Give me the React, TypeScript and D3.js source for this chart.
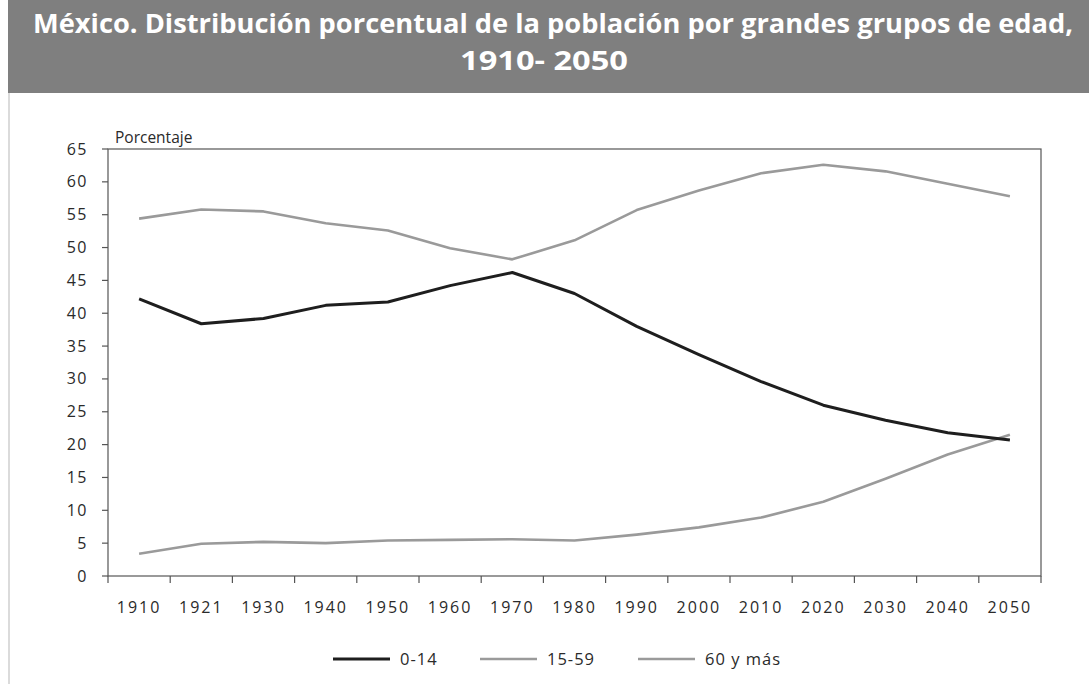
import React from "react";
import * as d3 from "d3";

const years = ["1910","1921","1930","1940","1950","1960","1970","1980","1990","2000","2010","2020","2030","2040","2050"];
const age0to14 = [42.2,38.4,39.2,41.2,41.7,44.2,46.2,43.0,38.0,33.7,29.6,26.0,23.7,21.8,20.7];
const age15to59 = [54.4,55.8,55.5,53.7,52.6,49.9,48.2,51.1,55.7,58.7,61.3,62.6,61.6,59.7,57.8];
const age60plus = [3.4,4.9,5.2,5.0,5.4,5.5,5.6,5.4,6.3,7.4,8.9,11.3,14.8,18.5,21.5];
const yTicks = [0,5,10,15,20,25,30,35,40,45,50,55,60,65];
const seriesNames = ["0-14","15-59","60 y más"];

const W = 1089, H = 684;
const left = 108, right = 1041, top = 149, bottom = 576;

export default function App() {
  const x = d3.scaleBand<string>().domain(years).range([left, right]);
  const y = d3.scaleLinear().domain([0, 65]).range([bottom, top]);
  const line = d3.line<number>()
    .x((_, i) => (x(years[i]) as number) + x.bandwidth() / 2)
    .y((d) => y(d))
    .curve(d3.curveLinear);
  const series = [
    { name: seriesNames[0], values: age0to14, color: "#1e1e1e", width: 3 },
    { name: seriesNames[1], values: age15to59, color: "#9a9a9a", width: 2.6 },
    { name: seriesNames[2], values: age60plus, color: "#9a9a9a", width: 2.6 },
  ];
  const font = "'Open Sans', 'Noto Sans', sans-serif";
  const legendX = [333, 480, 638];
  return (
    <svg width={W} height={H} style={{ position: "absolute", left: 0, top: 0, display: "block" }}>
      <rect x={0} y={0} width={W} height={H} fill="#fff" />
      <rect x={8} y={0} width={W - 8} height={93} fill="#7f7f7f" />
      <line x1={9} x2={9} y1={93} y2={H} stroke="#cfcfcf" strokeWidth={1.5} />
      <text x={553} y={33} fill="#fff" fontFamily={font} fontWeight={700} fontSize={27} textAnchor="middle"
        textLength={1040} lengthAdjust="spacingAndGlyphs">
        México. Distribución porcentual de la población por grandes grupos de edad,
      </text>
      <text x={544} y={70} fill="#fff" fontFamily={font} fontWeight={700} fontSize={27} textAnchor="middle"
        textLength={168} lengthAdjust="spacingAndGlyphs">
        1910- 2050
      </text>
      <text x={115} y={143} fontFamily={font} fontSize={15.5} fill="#2a2a2a">Porcentaje</text>
      <rect x={left} y={top} width={right - left} height={bottom - top} fill="none" stroke="#555" strokeWidth={1.2} />
      {yTicks.map((t) => (
        <g key={t}>
          <line x1={left - 6} x2={left} y1={y(t)} y2={y(t)} stroke="#555" strokeWidth={1.2} />
          <text x={88} y={y(t) + 5.5} textAnchor="end" fontFamily={font} fontSize={16} fill="#2a2a2a" letterSpacing={1.5}>{t}</text>
        </g>
      ))}
      {years.map((yr) => (
        <line key={"t" + yr} x1={(x(yr) as number)} x2={(x(yr) as number)} y1={bottom} y2={bottom + 7} stroke="#555" strokeWidth={1.2} />
      ))}
      <line x1={right} x2={right} y1={bottom} y2={bottom + 7} stroke="#555" strokeWidth={1.2} />
      {years.map((yr) => (
        <text key={"l" + yr} x={(x(yr) as number) + x.bandwidth() / 2} y={613} textAnchor="middle"
          fontFamily={font} fontSize={16} fill="#2a2a2a" letterSpacing={2}>{yr}</text>
      ))}
      {series.slice().reverse().map((s) => (
        <path key={s.name} d={line(s.values) || ""} fill="none" stroke={s.color} strokeWidth={s.width} strokeLinejoin="round" />
      ))}
      {series.map((s, i) => (
        <g key={"lg" + s.name}>
          <line x1={legendX[i]} x2={legendX[i] + 57} y1={659} y2={659} stroke={s.color} strokeWidth={s.width} />
          <text x={legendX[i] + 67} y={665} fontFamily={font} fontSize={16.5} fill="#2a2a2a" letterSpacing={1}>{s.name}</text>
        </g>
      ))}
    </svg>
  );
}
